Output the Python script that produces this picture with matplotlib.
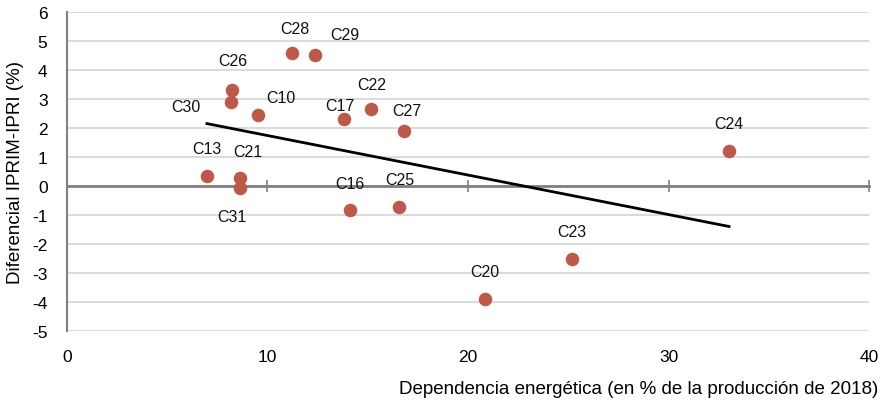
import numpy as np
import matplotlib.pyplot as plt

plt.rcParams['font.family'] = ['Liberation Sans', 'DejaVu Sans']
plt.rcParams['axes.unicode_minus'] = False

# sector codes and values
labels = ['C28', 'C29', 'C26', 'C30', 'C10', 'C17', 'C22', 'C27',
          'C24', 'C13', 'C21', 'C31', 'C16', 'C25', 'C20', 'C23']
dependencia = [11.22, 12.37, 8.23, 8.18, 9.53, 13.82, 15.16, 16.81,
               33.02, 6.98, 8.63, 8.63, 14.11, 16.56, 20.85, 25.19]
diferencial = [4.59, 4.52, 3.31, 2.90, 2.45, 2.31, 2.66, 1.90,
               1.21, 0.34, 0.28, -0.07, -0.83, -0.72, -3.90, -2.52]

xticks = [0, 10, 20, 30, 40]
yticks = [-5, -4, -3, -2, -1, 0, 1, 2, 3, 4, 5, 6]

# label offsets in pixels (dx, dy)
label_offsets = [(3, 24), (30, 20), (1, 30), (-45, -5), (23, 17), (-4, 14),
                 (1, 24), (3, 20), (0, 27), (0, 28), (8, 26), (-8, -28),
                 (0, 27), (1, 27), (0, 28), (0, 28)]

x = np.array(dependencia)
y = np.array(diferencial)

fig = plt.figure(figsize=(8.81, 4.06), dpi=100)
ax = fig.add_axes([0.076, 0.182, 0.9104, 0.786])

for yt in yticks:
    ax.axhline(yt, color='#d4d4d4', lw=1.2, zorder=0)

ax.scatter(x, y, s=95, color='#c0584a', zorder=3, linewidths=0)

# linear trend
slope, intercept = np.polyfit(x, y, 1)
xs = np.array([x.min(), x.max()])
ax.plot(xs, slope * xs + intercept, color='black', lw=2, zorder=4)

for lab, xi, yi, (dx, dy) in zip(labels, x, y, label_offsets):
    ax.annotate(lab, (xi, yi), xytext=(dx, dy), textcoords='offset pixels',
                ha='center', va='center', fontsize=11.5, color='#111111')

ax.set_xlim(0, 40)
ax.set_ylim(-5, 6)
ax.set_yticks(yticks)
ax.set_xticks(xticks)

for s in ['top', 'right']:
    ax.spines[s].set_visible(False)
ax.spines['left'].set_color('#808080')
ax.spines['left'].set_linewidth(1.5)
ax.spines['bottom'].set_position(('data', 0))
ax.spines['bottom'].set_color('#808080')
ax.spines['bottom'].set_linewidth(2)
ax.tick_params(axis='x', direction='inout', length=9, width=1.2,
               color='#808080', labelbottom=False)
ax.tick_params(axis='y', length=0, labelsize=12.5, pad=14)

sec = ax.secondary_xaxis(0)
sec.set_xticks(xticks)
sec.spines['bottom'].set_visible(False)
sec.tick_params(length=0, labelsize=12.5, pad=13)

ax.set_ylabel('Diferencial IPRIM-IPRI (%)', fontsize=13.5)
ax.yaxis.set_label_coords(-0.053, 0.5)
fig.text(0.997, 0.04, 'Dependencia energética (en % de la producción de 2018)',
         ha='right', va='center', fontsize=13.5)

plt.savefig('out.png', dpi=100)
